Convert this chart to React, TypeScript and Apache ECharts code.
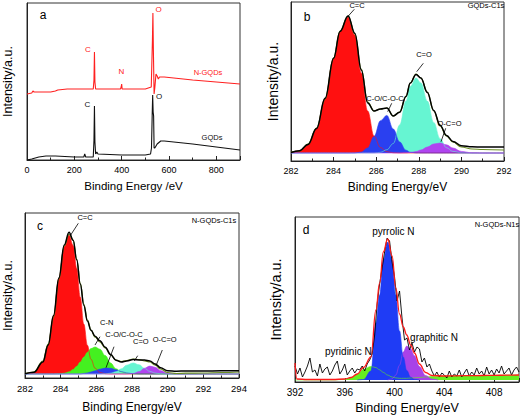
import React, { useEffect, useRef } from "react";
import * as echarts from "echarts";

const F = "Liberation Sans, Arial, sans-serif";

// ---------- Panel a: survey spectra ----------
const aNE = [0, 20, 25, 30, 60, 100, 120, 130, 170, 200, 280, 283, 285, 287, 290, 395, 398, 400, 402, 500, 525, 530, 532, 534, 537, 540, 545, 550, 555, 560, 580, 700, 800, 900];
const aNI = [66, 67, 69, 68, 68, 68, 69, 70, 71, 71, 71, 80, 108, 78, 71, 71, 73, 76, 71, 71, 73, 120, 147, 110, 66, 72, 86, 84, 81, 83, 83, 80, 78, 76];
const aGE = [0, 20, 50, 80, 120, 200, 240, 244, 248, 280, 283, 285, 287, 290, 295, 300, 400, 500, 522, 526, 529, 531, 533, 535, 537, 540, 550, 565, 580, 700, 800, 900];
const aGI = [0, 1, 3, 4, 4, 3, 3, 6, 3, 3, 20, 54, 18, 6, 8, 6, 5, 5, 6, 12, 45, 65, 48, 44, 12, 12, 16, 19, 19, 16, 13, 10];

// ---------- Panel b: GQDs C1s ----------
const bE = [282, 282.4, 282.8, 283.2, 283.6, 284.0, 284.3, 284.68, 285.0, 285.3, 285.6, 285.9, 286.2, 286.5, 286.8, 287.1, 287.4, 287.6, 287.87, 288.1, 288.4, 288.7, 289.0, 289.3, 289.6, 290.0, 290.5, 291, 292];
const bCC = [0.5, 2.3, 8.6, 24.5, 54.7, 94.7, 121, 136, 118, 80, 42, 17, 5.5, 1.4, 0.2, 0, 0, 0, 0, 0, 0, 0, 0, 0, 0, 0, 0, 0, 0];
const bCO = [0, 0, 0, 0, 0, 0, 0, 0, 0.1, 1.0, 5.1, 16.6, 32.3, 37.6, 24, 11.1, 2.8, 0.8, 0.1, 0, 0, 0, 0, 0, 0, 0, 0, 0, 0];
const bCdO = [0, 0, 0, 0, 0, 0, 0, 0, 0, 0, 0, 0, 0.7, 3.3, 9.4, 28.1, 52.1, 66.6, 75, 70, 52, 30.6, 14.3, 5.3, 1.6, 0.2, 0, 0, 0];
const bOCO = [0, 0, 0, 0, 0, 0, 0, 0, 0, 0, 0, 0, 0, 0, 0, 0, 0.2, 0.5, 1.5, 3, 6, 9, 10, 8.2, 5, 1.6, 0.2, 0, 0];
const bFit = [0.5, 2.3, 8.6, 24.5, 54.7, 94.7, 121.5, 137, 119.6, 83, 50.1, 42, 44, 45, 37, 40.7, 56.6, 69.9, 78.6, 75, 60.5, 42.6, 27.8, 17.5, 11.6, 7.3, 6.2, 6, 6];
const bRaw = [1, 2, 9, 25, 54, 95, 122, 137, 119, 84, 51, 42, 44, 45, 37, 41, 57, 70, 79, 75, 61, 42, 27, 17, 11, 6, 4, 3.5, 3];

// ---------- Panel c: N-GQDs C1s ----------
const cE = [282, 282.5, 283.0, 283.3, 283.6, 283.9, 284.2, 284.47, 284.7, 284.9, 285.1, 285.3, 285.5, 285.7, 285.93, 286.2, 286.5, 286.8, 287.1, 287.4, 287.7, 288.07, 288.4, 288.7, 289.0, 289.3, 289.6, 290.0, 290.5, 291, 292, 293, 294];
const cCC = [0.1, 1.6, 11.6, 28.9, 58.3, 95.7, 127.8, 139, 128.5, 105.6, 77, 49.9, 28.7, 14.7, 5.8, 1.6, 0.3, 0, 0, 0, 0, 0, 0, 0, 0, 0, 0, 0, 0, 0, 0, 0, 0];
const cCN = [0, 0, 0, 0, 0, 0.2, 0.8, 2.2, 4.5, 7.7, 12, 16.9, 21.7, 25.4, 27, 24.8, 18.4, 11, 5.3, 2.1, 0.7, 0.1, 0, 0, 0, 0, 0, 0, 0, 0, 0, 0, 0];
const cCO = [0, 0, 0, 0, 0, 0, 0, 0, 0, 0, 0, 0.6, 1.1, 2, 3.2, 4.8, 5.9, 5.7, 4.2, 2.5, 1.1, 0.3, 0, 0, 0, 0, 0, 0, 0, 0, 0, 0, 0];
const cCdO = [0, 0, 0, 0, 0, 0, 0, 0, 0, 0, 0, 0, 0, 0, 0, 0, 0.2, 0.8, 2.3, 5.2, 8.8, 11, 9.2, 5.7, 2.6, 0.9, 0.2, 0, 0, 0, 0, 0, 0];
const cOCO = [0, 0, 0, 0, 0, 0, 0, 0, 0, 0, 0, 0, 0, 0, 0, 0, 0, 0, 0, 0, 0, 0.5, 2.4, 5.7, 7.9, 6.7, 3.4, 0.6, 0, 0, 0, 0, 0];
const cFit = [0.3, 1.8, 12, 29, 58.5, 96, 129, 141.7, 133.7, 114.2, 90, 68.6, 52.9, 43.7, 37.8, 33.2, 26.8, 19.5, 13.8, 12, 13, 14.4, 14.1, 13.9, 13, 10.1, 6.2, 3.3, 2.8, 3, 3, 3.2, 3.3];
const cRaw = [0.5, 2, 13, 30, 57, 95, 128, 140, 134, 115, 91, 70, 54, 44, 37, 32, 26, 19, 14, 12.5, 13.5, 15, 14.5, 13, 12, 9, 5, 1.5, 0.5, 0.8, 1, 1.5, 2];

// ---------- Panel d: N-GQDs N1s ----------
const dE = [392, 393, 394, 395, 396, 396.5, 397, 397.5, 398.1, 398.5, 398.8, 399.1, 399.45, 399.8, 400.1, 400.4, 400.7, 400.98, 401.3, 401.6, 402, 402.5, 403, 404, 405, 406, 407, 408, 409, 410];
const dPyridinic = [0, 0, 0, 0, 0.6, 2.3, 5.9, 10.6, 13.6, 12.4, 10.2, 7.5, 4.9, 3, 2.1, 1.7, 1.7, 1.7, 2, 2.2, 2.5, 3, 3.5, 4, 4.2, 4.4, 4.5, 4.7, 4.8, 5];
const dPyrE = [397, 397.5, 398.1, 398.5, 398.8, 399.1, 399.45, 399.8, 400.1, 400.4, 400.7, 400.98, 401.3, 401.6, 402];
const dPyrI = [0, 0.5, 9, 57, 85, 120, 138, 120, 85, 49, 23, 9.4, 2.7, 0.7, 0];
const dGraE = [399.45, 399.8, 400.1, 400.4, 400.7, 400.98, 401.3, 401.6, 402, 402.5, 403, 403.5];
const dGraI = [0, 1.1, 5, 14.8, 28, 34, 31, 24.2, 13.5, 4.4, 0.9, 0];
const dFitE = [392, 392.15, 393, 394, 395, 396, 396.5, 397, 397.5, 398.1, 398.5, 398.8, 399.1, 399.45, 399.8, 400.1, 400.4, 400.7, 400.98, 401.3, 401.6, 402, 402.5, 403, 404, 405, 406, 407, 408, 409, 410];
const dFitI = [17, 1, 0.5, 0.5, 0.5, 1, 2.5, 6, 12.5, 23, 70, 97, 128, 141, 124, 92, 66, 53, 45, 35, 27, 16, 7.5, 4.5, 4, 4.2, 4.4, 4.5, 4.7, 4.8, 5];
const dRawE = [392, 392.2, 392.4, 392.6, 392.8, 393, 393.2, 393.4, 393.6, 393.8, 394, 394.2, 394.4, 394.6, 394.8, 395, 395.2, 395.4, 395.6, 395.8, 396, 396.2, 396.4, 396.6, 396.8, 397, 397.2, 397.4, 397.6, 397.8, 398, 398.2, 398.4, 398.6, 398.8, 399, 399.2, 399.4, 399.6, 399.8, 400, 400.2, 400.4, 400.6, 400.8, 401, 401.2, 401.4, 401.6, 401.8, 402, 402.2, 402.4, 402.6, 402.8, 403, 403.2, 403.4, 403.6, 403.8, 404, 404.2, 404.4, 404.6, 404.8, 405, 405.2, 405.4, 405.6, 405.8, 406, 406.2, 406.4, 406.6, 406.8, 407, 407.2, 407.4, 407.6, 407.8, 408, 408.2, 408.4, 408.6, 408.8, 409, 409.2, 409.4, 409.6, 409.8, 410];
const dRawI = [14, 6, 12, 3, 8, 14, 22, 8, 10, 4,
  16, 7, 11, 13, 5, 9, 15, 19, 6, 10,
  16, 5, 9, 12, 7, 11, 10, 14, 9, 16,
  20, 26, 45, 76, 96, 112, 128, 142, 139, 118,
  103, 79, 89, 62, 40, 42, 30, 37, 28, 33,
  31, 18, 22, 13, 16, 9, 4, 8, 3, 7,
  5, 2, 9, 3, 6, 4, 10, 3, 7, 11,
  4, 8, 5, 12, 6, 9, 4, 13, 6, 10,
  5, 11, 7, 14, 6, 9, 12, 5, 10, 13,
  8];

const pairs = (xs: number[], ys: number[]) => xs.map((x, i) => [x, ys[i]]);

const xAxisCfg = (gridIndex: number, min: number, max: number, interval: number, name: string, nameGap: number, nameSize: number, labelSize: number, hideMax: boolean) => ({
  type: "value", gridIndex, min, max, interval, name, nameLocation: "middle", nameGap,
  nameTextStyle: { fontSize: nameSize, fontFamily: F, color: "#000" },
  axisLine: { onZero: false, lineStyle: { color: "#222", width: 1 } },
  axisTick: { inside: true, length: 4, lineStyle: { color: "#222" } },
  minorTick: { show: true, splitNumber: 2, length: 2.5, lineStyle: { color: "#222" } },
  axisLabel: { fontSize: labelSize, fontFamily: F, color: "#000", margin: 5, showMaxLabel: !hideMax },
  splitLine: { show: false },
});

const yAxisCfg = (gridIndex: number, min: number, max: number, nameGap: number, nameSize: number) => ({
  type: "value", gridIndex, min, max, name: "Intensity/a.u.", nameLocation: "middle", nameGap,
  nameTextStyle: { fontSize: nameSize, fontFamily: F, color: "#000" },
  axisLine: { onZero: false, lineStyle: { color: "#222", width: 1 } },
  axisTick: { show: false }, axisLabel: { show: false }, splitLine: { show: false },
});

const area = (idx: number, xs: number[], ys: number[], color: string, z = 2) => ({
  type: "line", xAxisIndex: idx, yAxisIndex: idx, data: pairs(xs, ys), symbol: "none",
  smooth: 0.4, smoothMonotone: "x", z,
  lineStyle: { color, width: 0.6 }, areaStyle: { color, opacity: 1 },
});
const line = (idx: number, xs: number[], ys: number[], color: string, width: number, smooth: number | boolean, z = 3) => ({
  type: "line", xAxisIndex: idx, yAxisIndex: idx, data: pairs(xs, ys), symbol: "none",
  smooth, smoothMonotone: "x", z, lineStyle: { color, width },
});

const txt = (text: string, x: number, y: number, size: number, fill = "#000") => ({
  type: "text", z: 100,
  style: { text, x, y, font: `${size}px ${F}`, fill, textAlign: "center", textVerticalAlign: "middle" },
});
const ln = (x1: number, y1: number, x2: number, y2: number) => ({
  type: "line", z: 100, shape: { x1, y1, x2, y2 }, style: { stroke: "#000", lineWidth: 0.8 },
});

export default function App() {
  const ref = useRef<HTMLDivElement>(null);
  useEffect(() => {
    if (!ref.current) return;
    const chart = echarts.init(ref.current, undefined, { renderer: "svg" });
    const gridStyle = { show: true, borderColor: "#333", borderWidth: 1, backgroundColor: "transparent", containLabel: false };
    chart.setOption({
      animation: false,
      backgroundColor: "#fff",
      textStyle: { fontFamily: F },
      grid: [
        { ...gridStyle, left: 27, top: 3, width: 213, height: 157 },
        { ...gridStyle, left: 291, top: 2, width: 213, height: 159 },
        { ...gridStyle, left: 25, top: 213, width: 214, height: 165 },
        { ...gridStyle, left: 295, top: 217, width: 224, height: 165 },
      ],
      xAxis: [
        xAxisCfg(0, 0, 900, 200, "Binding Energy /eV", 20, 11.5, 9, true),
        xAxisCfg(1, 282, 292, 2, "Binding Energy/eV", 20, 12, 9, false),
        xAxisCfg(2, 282, 294, 2, "Binding Energy/eV", 23, 12, 9.5, false),
        xAxisCfg(3, 392, 410, 4, "Binding Energy/eV", 19, 12.5, 10, true),
      ],
      yAxis: [
        yAxisCfg(0, 0, 157, 13, 12.5),
        yAxisCfg(1, -8, 151, 11, 14),
        yAxisCfg(2, -4, 161, 11, 12.5),
        yAxisCfg(3, -2, 163, 12, 14.5),
      ],
      series: [
        // a
        line(0, aNE, aNI, "#ff2020", 1.1, false),
        line(0, aGE, aGI, "#111", 1.1, false),
        // b
        area(1, bE, bCC, "#ff1010"),
        area(1, bE, bCdO, "#66f5d2"),
        area(1, bE, bCO, "#2a40f0"),
        area(1, bE, bOCO, "#b044f0"),
        line(1, bE, bRaw, "#6b8e23", 1.2, 0.4),
        line(1, bE, bFit, "#000", 1.5, 0.4),
        // c
        area(2, cE, cCC, "#ff1010"),
        area(2, cE, cCN, "#44f020"),
        area(2, cE, cCO, "#2a40f0"),
        area(2, cE, cCdO, "#66f5d2"),
        area(2, cE, cOCO, "#b044f0"),
        line(2, cE, cRaw, "#6b8e23", 1.2, 0.4),
        line(2, cE, cFit, "#000", 1.5, 0.4),
        // d
        area(3, dE, dPyridinic, "#66ee22"),
        area(3, dGraE, dGraI, "#a842e8"),
        area(3, dPyrE, dPyrI, "#1f3cf5"),
        line(3, dRawE, dRawI, "#000", 0.9, false),
        line(3, dFitE, dFitI, "#ff1a1a", 1.3, 0.4),
      ],
      graphic: [
        // panel a
        txt("a", 43, 15, 12),
        txt("C", 88, 49, 8, "#ff2020"),
        txt("N", 121.5, 71.5, 8, "#ff2020"),
        txt("O", 158.7, 9, 8, "#ff2020"),
        txt("N-GQDs", 208, 72, 7.5, "#ff2020"),
        txt("C", 87.5, 104.5, 8, "#111"),
        txt("O", 159, 96, 8, "#111"),
        txt("GQDs", 212, 137, 7.5, "#111"),
        // panel b
        txt("b", 307, 17, 12),
        txt("C=C", 357, 5, 7.5),
        txt("GQDs-C1s", 486, 5, 7.5),
        txt("C-O/C-O-C", 385, 98, 7.5),
        txt("C=O", 424, 54, 7.5),
        txt("O-C=O", 449.5, 123, 7.5),
        ln(354.3, 9.3, 348.3, 16),
        ln(391.7, 103.3, 387.7, 111.7),
        ln(423.3, 63.3, 416.7, 71.7),
        ln(445.7, 128.3, 441, 141.7),
        // panel c
        txt("c", 40, 226, 12),
        txt("C=C", 85, 217.5, 7.5),
        txt("N-GQDs-C1s", 214, 220, 7.5),
        txt("C-N", 106.7, 322.5, 7.5),
        txt("C-O/C-O-C", 124, 334, 7.5),
        txt("C=O", 140.8, 341.7, 7.5),
        txt("O-C=O", 164.7, 339, 7.5),
        ln(78.3, 223.3, 70.7, 235),
        ln(100, 336.7, 95, 345),
        ln(114, 346.7, 106, 367.7),
        ln(137.7, 355.7, 134.3, 361),
        ln(162.3, 350, 156, 365.7),
        // panel d
        txt("d", 306, 230, 12),
        txt("pyrrolic N", 393.3, 231, 10),
        txt("N-GQDs-N1s", 497, 224, 7.5),
        txt("pyridinic N", 348.3, 351, 10),
        txt("graphitic N", 434, 337, 10),
      ],
    });
    return () => chart.dispose();
  }, []);
  return <div ref={ref} style={{ position: "fixed", left: 0, top: 0, width: 521, height: 417, background: "#fff" }} />;
}
